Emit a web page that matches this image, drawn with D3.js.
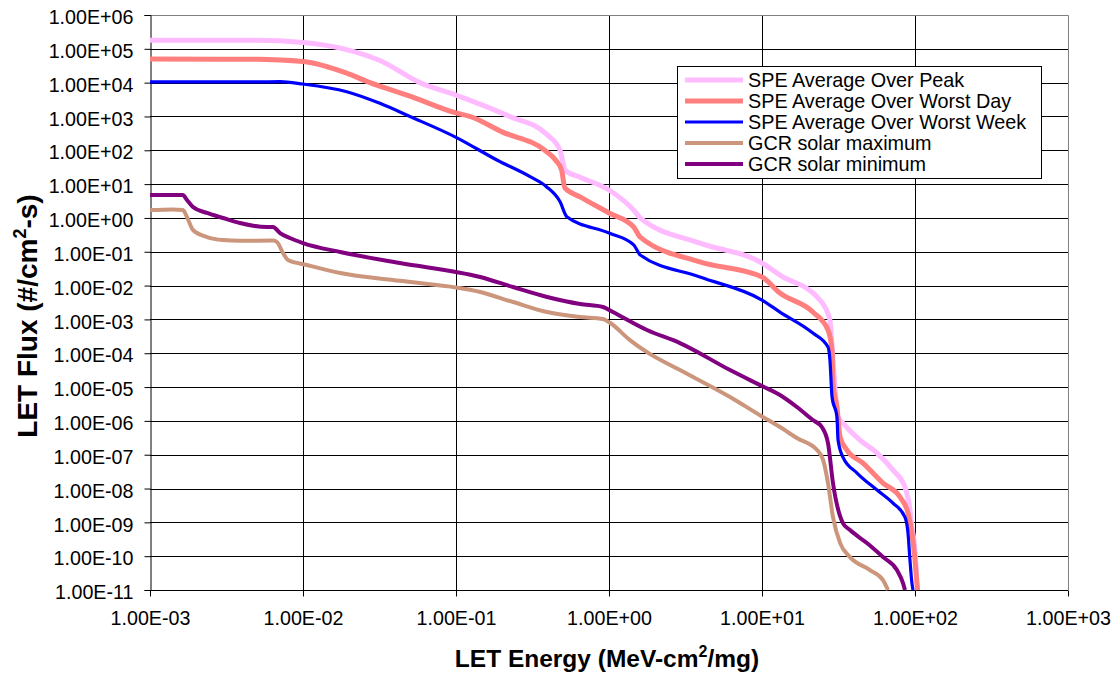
<!DOCTYPE html>
<html>
<head>
<meta charset="utf-8">
<script src="https://cdn.jsdelivr.net/npm/d3@7"></script>
<style>
  html, body { margin: 0; padding: 0; background: #fff; }
  svg { display: block; font-family: "Liberation Sans", Arial, sans-serif; }
</style>
</head>
<body>
<svg id="chart" width="1120" height="675"></svg>
<script>
// LET flux spectra: [LET energy (MeV-cm2/mg), flux (#/cm2-s)]
const spePeak = [
  [1e-3, 1.8e5], [5e-3, 1.78e5], [1e-2, 1.55e5], [1.93e-2, 9.5e4], [3.18e-2, 4.5e4],
  [5.8e-2, 1e4], [0.1, 4.3e3], [0.225, 1000], [0.39, 300], [0.479, 100], [0.5, 45],
  [0.515, 26], [0.646, 16], [1.0, 6.7], [1.45, 1.7], [1.6, 1.0], [3.93, 0.18], [10, 0.0465],
  [13.1, 0.0205], [23.9, 3.74e-3], [27.8, 9.6e-4], [29.1, 6.3e-5], [31.4, 1.3e-6],
  [33.8, 8.6e-7], [43.7, 2.71e-7], [56.5, 1.12e-7], [71.8, 3.5e-8], [86, 1.1e-8],
  [92.7, 2.31e-9], [95.5, 7.3e-10], [100, 1.5e-10], [103, 1.6e-11], [104, 1e-11]
];
const speDay = [
  [1e-3, 5.0e4], [5e-3, 4.9e4], [1e-2, 4.2e4], [1.93e-2, 1.9e4], [2.74e-2, 1e4],
  [5e-2, 4e3], [0.1, 1.27e3], [0.123, 1000], [0.2, 350], [0.38, 100], [0.45, 50],
  [0.49, 26], [0.515, 7.7], [0.646, 4.2], [1.0, 1.4], [1.45, 0.54], [1.6, 0.27],
  [3.93, 0.05], [10, 0.0179], [13.1, 6.0e-3], [21.5, 1.65e-3], [27.0, 4.85e-4],
  [28.7, 1.24e-4], [29.1, 1.3e-5], [30.9, 2.57e-6], [32.4, 3.33e-7], [35.9, 1.37e-7],
  [45.7, 5.67e-8], [61.8, 1.45e-8], [79.8, 5.6e-9], [90, 1.9e-9], [95.5, 4.8e-10],
  [100, 7.67e-11], [103, 1.6e-11], [104, 1e-11]
];
const speWeek = [
  [1e-3, 1.05e4], [5e-3, 1.05e4], [7.08e-3, 1.07e4], [1e-2, 9.1e3], [1.93e-2, 5.4e3],
  [3.18e-2, 2.45e3], [5e-2, 1000], [0.1, 242], [0.185, 51.6], [0.305, 16.6], [0.39, 8.4],
  [0.479, 3.0], [0.53, 1.09], [1.0, 0.358], [1.45, 0.16], [1.6, 0.08], [3.93, 0.0179],
  [10, 3.74e-3], [13.1, 1.65e-3], [21.5, 3.95e-4], [27.0, 1.52e-4], [27.8, 6.3e-5],
  [28.7, 5.07e-6], [30.9, 1.3e-6], [31.4, 2.71e-7], [33.8, 8.5e-8], [41.8, 2.87e-8],
  [56.5, 9.0e-9], [71.8, 3.7e-9], [86, 1.43e-9], [90, 4.8e-10], [92.7, 7.67e-11],
  [95.5, 1.6e-11], [97, 1e-11]
];
const gcrMax = [
  [1e-3, 1.71], [1.41e-3, 1.79], [1.64e-3, 1.71], [1.745e-3, 1.06], [1.91e-3, 0.44],
  [2.36e-3, 0.273], [3.0e-3, 0.222], [3.87e-3, 0.21], [6.37e-3, 0.215], [6.76e-3, 0.194],
  [7.4e-3, 0.092], [7.98e-3, 0.057], [1.06e-2, 0.0406], [1.75e-2, 0.0235], [4.3e-2, 0.0138],
  [0.144, 6.45e-3], [0.236, 3.27e-3], [0.394, 1.65e-3], [0.646, 1.18e-3], [0.914, 1.03e-3],
  [1.02, 7.82e-4], [1.37, 2.45e-4], [1.77, 1.08e-4], [2.91, 3.18e-5], [6.18, 5.07e-6],
  [10, 1.35e-6], [13.1, 6.58e-7], [16.9, 3.11e-7], [22.9, 1.37e-7], [25.1, 6.95e-8],
  [27.0, 1.45e-8], [29.1, 1.43e-9], [32.4, 2.44e-10], [37.6, 9.4e-11], [50.8, 3.88e-11],
  [61.8, 1.97e-11], [66.6, 1e-11]
];
const gcrMin = [
  [1e-3, 4.77], [1.64e-3, 4.77], [1.745e-3, 3.39], [1.91e-3, 2.1], [2.36e-3, 1.4],
  [3.0e-3, 0.995], [3.87e-3, 0.708], [5.82e-3, 0.538], [6.37e-3, 0.538], [7.08e-3, 0.358],
  [8.2e-3, 0.255], [1e-2, 0.181], [1.75e-2, 0.0982], [4.3e-2, 0.0465], [0.144, 0.0179],
  [0.236, 9.06e-3], [0.394, 4.59e-3], [0.646, 2.85e-3], [0.914, 2.32e-3], [1.06, 1.65e-3],
  [1.77, 4.85e-4], [2.91, 2.0e-4], [6.18, 3.18e-5], [10, 1.07e-5], [13.1, 5.81e-6],
  [16.9, 2.57e-6], [21.5, 1.06e-6], [24.6, 6.58e-7], [27.0, 2.21e-7], [29.1, 1.45e-8],
  [33.8, 9.5e-10], [37.6, 5.92e-10], [48.5, 2.44e-10], [61.8, 9.4e-11], [76.2, 3.88e-11],
  [83.5, 1.6e-11], [86, 1e-11]
];

const seriesNames = [
  "SPE Average Over Peak", "SPE Average Over Worst Day", "SPE Average Over Worst Week",
  "GCR solar maximum", "GCR solar minimum"
];
const seriesData = [spePeak, speDay, speWeek, gcrMax, gcrMin];
const seriesColors = ["#FFBBFF", "#FF7F7F", "#0000FF", "#CC967C", "#800080"];
const seriesWidths = [5, 5, 3.2, 4, 4];

const xTickValues = [1e-3, 1e-2, 1e-1, 1e0, 1e1, 1e2, 1e3];
const yTickValues = [1e-11, 1e-10, 1e-9, 1e-8, 1e-7, 1e-6, 1e-5, 1e-4, 1e-3, 1e-2, 1e-1, 1e0, 1e1, 1e2, 1e3, 1e4, 1e5, 1e6];

const xTitle = "LET Energy (MeV-cm";
const yTitle = "LET Flux (#/cm";

const svg = d3.select("#chart");
const plot = { left: 150, right: 1068, top: 15, bottom: 590 };

const x = d3.scaleLog().domain([1e-3, 1e3]).range([plot.left, plot.right]);
const y = d3.scaleLog().domain([1e-11, 1e6]).range([plot.bottom, plot.top]);

// Excel-style scientific tick labels, e.g. 1.00E-03
const sci = v => {
  const e = Math.round(Math.log10(v));
  const m = v / Math.pow(10, e);
  return m.toFixed(2) + "E" + (e < 0 ? "-" : "+") + String(Math.abs(e)).padStart(2, "0");
};

// gridlines
const grid = svg.append("g");
grid.selectAll("line.h").data(yTickValues.slice(1, -1)).join("line")
  .attr("x1", plot.left).attr("x2", plot.right)
  .attr("y1", d => Math.round(y(d)) + 0.5).attr("y2", d => Math.round(y(d)) + 0.5)
  .attr("stroke", "#000").attr("stroke-width", 1);
grid.selectAll("line.v").data(xTickValues.slice(1, -1)).join("line")
  .attr("y1", plot.top).attr("y2", plot.bottom)
  .attr("x1", d => Math.round(x(d)) + 0.5).attr("x2", d => Math.round(x(d)) + 0.5)
  .attr("stroke", "#000").attr("stroke-width", 1);

// plot frame (top and right sides)
svg.append("path")
  .attr("d", `M${plot.left},${plot.top + 0.5}H${plot.right + 0.5}V${plot.bottom}`)
  .attr("fill", "none").attr("stroke", "#808080").attr("stroke-width", 1);

// axes
const xAxis = d3.axisBottom(x).tickValues(xTickValues).tickFormat(sci).tickSizeOuter(0).tickSize(6).tickPadding(15);
const yAxis = d3.axisLeft(y).tickValues(yTickValues).tickFormat(sci).tickSizeOuter(0).tickSize(6).tickPadding(11);

const gx = svg.append("g").attr("transform", `translate(0,${plot.bottom + 0.5})`).call(xAxis);
const gy = svg.append("g").attr("transform", `translate(${plot.left + 0.5},0)`).call(yAxis);
[gx, gy].forEach(g => {
  g.select(".domain").attr("stroke", "#000");
  g.selectAll(".tick line").attr("stroke", "#000");
  g.selectAll(".tick text").attr("fill", "#000")
    .style("font-family", "'Liberation Sans', Arial, sans-serif").style("font-size", "19.7px");
});
gy.selectAll(".tick text").attr("dy", "0.44em");
gx.select(".domain").attr("d", `M${plot.left},0H${plot.right}`);

// series
svg.append("clipPath").attr("id", "plotClip").append("rect")
  .attr("x", plot.left).attr("y", plot.top)
  .attr("width", plot.right - plot.left).attr("height", plot.bottom - plot.top + 1);
const line = d3.line().x(d => x(d[0])).y(d => y(d[1])).curve(d3.curveMonotoneX);
const lines = svg.append("g").attr("clip-path", "url(#plotClip)");
seriesData.forEach((data, i) => {
  lines.append("path").datum(data)
    .attr("d", line)
    .attr("fill", "none").attr("stroke", seriesColors[i])
    .attr("stroke-width", seriesWidths[i]).attr("stroke-linejoin", "round");
});

// legend
const legend = svg.append("g");
legend.append("rect").attr("x", 677.5).attr("y", 66.5).attr("width", 364).attr("height", 112)
  .attr("fill", "#fff").attr("stroke", "#000").attr("stroke-width", 1);
seriesNames.forEach((name, i) => {
  const ly = 80 + i * 21;
  legend.append("line").attr("x1", 685).attr("x2", 743).attr("y1", ly).attr("y2", ly)
    .attr("stroke", seriesColors[i]).attr("stroke-width", seriesWidths[i]);
  legend.append("text").attr("x", 748).attr("y", ly).attr("dy", "0.36em")
    .style("font-size", "19.8px").attr("fill", "#000").text(name);
});

// axis titles
const xt = svg.append("text").attr("x", 607).attr("y", 667)
  .attr("text-anchor", "middle").style("font-size", "24.5px").style("font-weight", "bold");
xt.append("tspan").text(xTitle);
xt.append("tspan").attr("dy", -10).style("font-size", "16px").text("2");
xt.append("tspan").attr("dy", 10).text("/mg)");

const yt = svg.append("text").attr("transform", "translate(37,316) rotate(-90)")
  .attr("text-anchor", "middle").style("font-size", "28px").style("font-weight", "bold");
yt.append("tspan").text(yTitle);
yt.append("tspan").attr("dy", -11).style("font-size", "18px").text("2");
yt.append("tspan").attr("dy", 11).text("-s)");
</script>
</body>
</html>
